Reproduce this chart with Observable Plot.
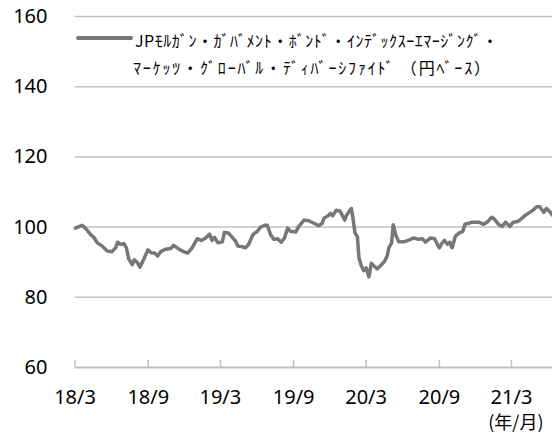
<!DOCTYPE html>
<html>
<head>
<meta charset="utf-8">
<script src="https://cdn.jsdelivr.net/npm/d3@7"></script>
<script src="https://cdn.jsdelivr.net/npm/@observablehq/plot@0.6"></script>
<style>
  html, body { margin: 0; padding: 0; background: #fff; }
  #chart { position: relative; width: 552px; height: 434px; overflow: hidden; }
</style>
</head>
<body>
<div id="chart"></div>
<script>
const seriesName1 = "JPﾓﾙｶﾞﾝ・ｶﾞﾊﾞﾒﾝﾄ・ﾎﾞﾝﾄﾞ・ｲﾝﾃﾞｯｸｽｰｴﾏｰｼﾞﾝｸﾞ・";
const seriesName2 = "ﾏｰｹｯﾂ・ｸﾞﾛｰﾊﾞﾙ・ﾃﾞｨﾊﾞｰｼﾌｧｲﾄﾞ （円ﾍﾞｰｽ）";
const xAxisUnit = "(年/月)";

const yTicks = [60, 80, 100, 120, 140, 160];
const xTicks = ["2018-03-01", "2018-09-01", "2019-03-01", "2019-09-01", "2020-03-01", "2020-09-01", "2021-03-01"];

const dates = [
  "2018-03-02","2018-03-19","2018-03-27","2018-04-09","2018-04-17","2018-04-26","2018-05-08","2018-05-21",
  "2018-06-02","2018-06-11","2018-06-16","2018-06-23","2018-07-02","2018-07-08","2018-07-14","2018-07-23",
  "2018-07-28","2018-08-04","2018-08-11","2018-08-21","2018-08-31","2018-09-08","2018-09-17","2018-09-25",
  "2018-10-02","2018-10-14","2018-10-27","2018-11-04","2018-11-17","2018-11-29","2018-12-09","2018-12-20",
  "2019-01-02","2019-01-12","2019-01-23","2019-02-02","2019-02-08","2019-02-14","2019-02-23","2019-03-06",
  "2019-03-11","2019-03-21","2019-03-31","2019-04-08","2019-04-14","2019-04-25","2019-05-03","2019-05-11",
  "2019-05-22","2019-06-02","2019-06-10","2019-06-20","2019-06-27","2019-07-05","2019-07-13","2019-07-22",
  "2019-08-01","2019-08-09","2019-08-17","2019-08-24","2019-09-06","2019-09-14","2019-09-27","2019-10-09",
  "2019-10-22","2019-11-03","2019-11-12","2019-11-16","2019-11-26","2019-12-03","2019-12-08","2019-12-17",
  "2019-12-26","2020-01-01","2020-01-07","2020-01-12","2020-01-18","2020-01-24","2020-01-28","2020-02-02",
  "2020-02-08","2020-02-12","2020-02-18","2020-02-24","2020-03-01","2020-03-08","2020-03-14","2020-03-20",
  "2020-03-29","2020-04-06","2020-04-16","2020-04-23","2020-04-27","2020-05-04","2020-05-08","2020-05-14",
  "2020-05-22","2020-06-04","2020-06-16","2020-06-29","2020-07-11","2020-07-20","2020-07-28","2020-08-10",
  "2020-08-20","2020-08-26","2020-09-01","2020-09-08","2020-09-14","2020-09-21","2020-09-27","2020-10-03",
  "2020-10-11","2020-10-20","2020-10-30","2020-11-04","2020-11-14","2020-11-22","2020-12-09","2020-12-21",
  "2021-01-01","2021-01-10","2021-01-17","2021-01-28","2021-02-06","2021-02-14","2021-02-25","2021-03-05",
  "2021-03-17","2021-03-25","2021-04-05","2021-04-16","2021-04-24","2021-05-03","2021-05-11","2021-05-21",
  "2021-05-28","2021-06-05","2021-06-12"
];
const values = [
  99.7,100.5,99.7,97.9,97.1,95.5,94.6,93.2,
  93.0,94.1,95.7,95.1,95.3,94.1,90.9,89.3,
  90.7,90.0,88.6,90.9,93.5,92.7,92.6,91.8,
  93.0,93.7,93.9,94.8,93.7,93.0,92.6,94.1,
  96.7,96.2,96.9,98.0,96.2,97.1,95.5,95.8,
  98.5,98.3,97.1,96.0,94.6,94.4,94.1,95.1,
  97.9,98.8,100.0,100.5,100.5,97.9,96.5,96.7,
  95.7,96.9,99.7,98.8,98.6,100.2,102.0,101.8,
  101.1,100.4,101.1,102.5,103.2,103.9,103.2,104.8,
  104.6,103.4,102.0,103.4,104.4,105.3,102.5,98.3,
  97.4,91.3,89.0,87.6,88.4,85.8,89.7,89.0,
  88.1,89.0,90.2,91.8,94.1,95.5,100.7,97.9,
  95.8,95.8,96.3,96.9,96.5,96.7,95.7,96.9,
  96.7,95.3,94.1,95.5,96.2,95.1,95.7,94.1,
  97.4,98.3,98.8,100.8,101.1,101.4,101.4,100.8,
  101.6,102.8,102.3,100.7,100.2,101.4,100.2,101.4,
  101.6,102.3,103.4,104.2,104.8,105.8,105.8,104.2,
  105.3,104.4,103.4
];

const data = dates.map((d, i) => ({date: new Date(d), value: values[i]}));
const xTickDates = xTicks.map(d => new Date(d));

const lineColor = "#777777";
const gridColor = "#c0c0c0";

const plot = Plot.plot({
  width: 552,
  height: 434,
  marginLeft: 74.5,
  marginRight: 0,
  marginTop: 16,
  marginBottom: 67,
  style: {fontFamily: "'Noto Sans', sans-serif", fontSize: "20px", color: "#000", background: "#fff", overflow: "hidden"},
  x: {type: "utc", domain: [new Date("2018-03-01"), new Date("2021-06-12")]},
  y: {domain: [60, 160]},
  marks: [
    Plot.ruleY(yTicks.filter(d => d > 60), {stroke: gridColor, strokeWidth: 1.5}),
    Plot.ruleY([60], {stroke: gridColor, strokeWidth: 2}),
    Plot.ruleX(xTickDates, {y1: 60, y2: 62, stroke: gridColor, strokeWidth: 1.5}),
    Plot.axisY(yTicks, {tickSize: 0, tickPadding: 27.5, label: null, fontSize: 20}),
    Plot.axisX(xTickDates, {tickSize: 0, tickPadding: 22, label: null, fontSize: 20, tickFormat: d3.utcFormat("%y/%-m")}),
    Plot.line(data, {x: "date", y: "value", stroke: lineColor, strokeWidth: 3.5, strokeLinejoin: "round"}),
    Plot.text([xAxisUnit], {frameAnchor: "bottom-right", dx: -9, dy: 61, textAnchor: "end", fontSize: 18, fontFamily: "'Noto Sans CJK JP', sans-serif", fill: "#000"})
  ]
});

document.getElementById("chart").appendChild(plot);

// legend drawn inside the same svg
const svg = d3.select(plot);
const lg = svg.append("g").attr("class", "legend").attr("text-anchor", "start");
lg.append("line")
  .attr("x1", 78).attr("x2", 131).attr("y1", 38).attr("y2", 38)
  .attr("stroke", lineColor).attr("stroke-width", 4).attr("stroke-linecap", "round");
lg.append("text")
  .attr("x", 135).attr("y", 40)
  .attr("text-anchor", "start")
  .attr("dominant-baseline", "central")
  .attr("textLength", 363).attr("lengthAdjust", "spacing")
  .style("font-family", "'Noto Sans CJK JP', sans-serif").style("font-size", "16px").attr("fill", "#000")
  .text(seriesName1);
lg.append("text")
  .attr("x", 133).attr("y", 66.5)
  .attr("text-anchor", "start")
  .attr("dominant-baseline", "central")
  .attr("textLength", 357).attr("lengthAdjust", "spacing")
  .style("font-family", "'Noto Sans CJK JP', sans-serif").style("font-size", "16px").attr("fill", "#000")
  .text(seriesName2);
</script>
</body>
</html>
